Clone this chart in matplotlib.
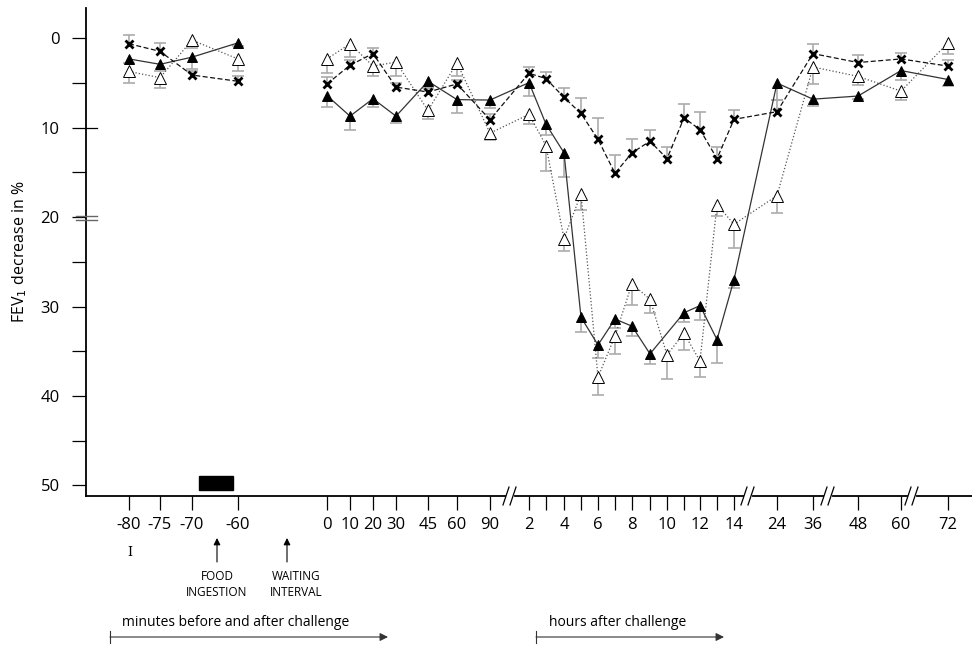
import numpy as np
import matplotlib.pyplot as plt

plt.rcParams['font.family'] = ['Open Sans', 'DejaVu Sans']

# time points (minutes before/after, then hours after challenge)
times = ['-80', '-75', '-70', '-60', '0', '10', '20', '30', '45', '60', '90',
         '2', '3', '4', '5', '6', '7', '8', '9', '10', '11', '12', '13', '14',
         '24', '36', '48', '60', '72']
hidden_labels = ['3', '5', '7', '9', '11', '13']
n_pre = 4  # first four points are before challenge, not joined to the rest

# FEV1 decrease in % (means) and one-sided error bars
filled = [2.3, 2.9, 2.1, 0.5, 6.4, 8.7, 6.75, 8.7, 4.8, 6.85, 6.9,
          4.95, 9.6, 12.8, 31.2, 34.3, 31.4, 32.2, 35.3, np.nan, 30.7, 29.9, 33.7, 27.0,
          5.0, 6.8, 6.45, 3.6, 4.6]
filled_err = [0.5, 0.7, 1.3, 0.3, 1.3, 1.6, 0.9, 0.8, 0.8, 1.55, 0.85,
              1.55, 1.25, 2.7, 1.6, 1.5, 1.0, 1.1, 1.1, np.nan, 1.0, 1.6, 2.6, 0.9,
              1.9, 0.8, 0.3, 1.0, 0.7]

opened = [3.7, 4.4, 0.2, 2.3, 2.3, 0.6, 3.1, 2.65, 8.05, 2.75, 10.6,
          8.5, 12.0, 22.4, 17.4, 37.9, 33.3, 27.45, 29.2, 35.4, 33.0, 36.1, 18.6, 20.8,
          17.6, 3.2, 4.25, 5.9, 0.5]
opened_err = [1.3, 1.1, 0.9, 1.4, 1.6, 1.5, 1.1, 1.6, 0.95, 1.45, 0.8,
              1.1, 2.8, 1.4, 1.8, 2.0, 2.0, 2.35, 1.5, 2.7, 1.9, 1.8, 1.3, 2.6,
              1.9, 1.9, 0.95, 1.0, 1.3]

cross = [0.6, 1.45, 4.1, 4.8, 5.1, 3.0, 1.7, 5.45, 6.0, 5.1, 9.1,
         3.9, 4.5, 6.6, 8.4, 11.3, 15.1, 12.8, 11.5, 13.45, 8.9, 10.2, 13.45, 9.06,
         8.2, 1.7, 2.7, 2.3, 3.1]
cross_err = [0.95, 0.9, 0.5, 0.55, 0.8, 0.6, 0.6, 0.5, 0.5, 0.5, 0.6,
             0.7, 0.7, 1.0, 1.7, 2.4, 2.0, 1.5, 1.2, 1.35, 1.6, 2.0, 1.25, 1.0,
             1.3, 1.1, 0.8, 0.7, 0.7]

# broken time axis: horizontal position of each time point (axis units)
xpos = [129, 160, 192, 238, 327, 350, 373, 396, 428, 457, 490,
        529, 546, 564, 581, 598, 615, 632, 650, 667, 684, 700, 717, 734,
        777, 813, 858, 901, 948]
breaks = [510, 748, 828, 912]

W, H = 972, 647
fig = plt.figure(figsize=(W / 100, H / 100), dpi=100)
ax = fig.add_axes([86 / W, 1 - 496 / H, (W - 86) / W, (496 - 8) / H])
ax.set_xlim(86, W)
ax.set_ylim(51.2, -3.4)

x = np.array(xpos, dtype=float)


def draw(vals, errs, down, marker, mfc, ls, lc, ms, mew):
    v = np.array(vals, dtype=float)
    e = np.array(errs, dtype=float)
    ok = ~np.isnan(v)
    end = v + e if down else v - e
    ax.vlines(x[ok], v[ok], end[ok], color='#ababab', lw=1.2, zorder=2)
    ax.plot(x[ok], end[ok], ls='none', marker='_', ms=8, mew=1.2,
            color='#ababab', zorder=2)
    for seg in (slice(0, n_pre), slice(n_pre, None)):
        xs, vs = x[seg], v[seg]
        m = ~np.isnan(vs)
        ax.plot(xs[m], vs[m], ls=ls, color=lc, lw=0.9, zorder=3)
    ax.plot(x[ok], v[ok], ls='none', marker=marker, ms=ms, mfc=mfc,
            mec='black', mew=mew, zorder=4)


draw(opened, opened_err, True, '^', 'white', ':', '#555555', 8, 0.7)
draw(filled, filled_err, True, '^', 'black', '-', '#333333', 7, 0.7)
draw(cross, cross_err, False, 'x', 'black', (0, (4, 2)), '#111111', 5.5, 2.0)

# food ingestion bar
ax.axvspan(199, 233, ymin=(51.2 - 50.5) / 54.6, ymax=(51.2 - 49.0) / 54.6,
           color='black', zorder=5)

# axes styling
for s in ['top', 'right', 'bottom']:
    ax.spines[s].set_visible(False)
ax.spines['left'].set_linewidth(1.3)

ax.set_xticks(xpos)
ax.set_xticklabels(['' if (i >= 11 and t in hidden_labels) else t
                    for i, t in enumerate(times)], fontsize=12)
ax.tick_params(axis='x', length=10, width=0.9, pad=5, direction='out')
gray_ticks = [0, 1, 2, 23, 25, 28]
for i, tl in enumerate(ax.get_xticklines()):
    if i // 2 in gray_ticks:
        tl.set_color('#aaaaaa')

ax.set_yticks([0, 10, 20, 30, 40, 50])
ax.set_yticks([5, 15, 25, 35, 45], minor=True)
ax.tick_params(axis='y', which='both', length=10, width=0.9, pad=9, labelsize=12)
ax.set_ylabel('FEV$_1$ decrease in %', fontsize=11.5, labelpad=8)

# bottom axis line with break marks
yb = 51.2
edges = [86] + breaks + [W]
for a, b in zip(edges[:-1], edges[1:]):
    a2 = a + 5 if a != 86 else a
    b2 = b - 5 if b != W else b
    ax.plot([a2, b2], [yb, yb], color='black', lw=1.3, clip_on=False, zorder=6)
for bx in breaks:
    for dx in (-4, 3):
        ax.plot([bx + dx - 3, bx + dx + 3], [yb + 1.0, yb - 1.0], color='black',
                lw=0.9, clip_on=False, zorder=6)

# y axis break at 20 and crossing tick at 10
for yy in (19.85, 20.3):
    ax.plot([76, 97], [yy, yy], color='#666666', lw=1.0, clip_on=False, zorder=6)
ax.plot([86, 97], [10, 10], color='black', lw=0.9, clip_on=False)


def fx(px):
    return px / W


def fy(py):
    return 1 - py / H


# annotations below the axis
fig.text(fx(130), fy(553), 'I', fontsize=9, family='DejaVu Serif',
         ha='center', va='center')
for ax_x in (217, 287):
    fig.add_artist(plt.Annotation('', xy=(fx(ax_x), fy(538)),
                                  xytext=(fx(ax_x), fy(562)),
                                  xycoords='figure fraction',
                                  arrowprops=dict(arrowstyle='-|>', color='black',
                                                  lw=0.8, mutation_scale=10,
                                                  shrinkA=0, shrinkB=0)))
fig.text(fx(217), fy(585), 'FOOD\nINGESTION', fontsize=8.5, ha='center',
         va='center', linespacing=1.3)
fig.text(fx(296), fy(585), 'WAITING\nINTERVAL', fontsize=8.5, ha='center',
         va='center', linespacing=1.3)

fig.text(fx(122), fy(623), 'minutes before and after challenge', fontsize=10,
         ha='left', va='center')
fig.text(fx(549), fy(622), 'hours after challenge', fontsize=10,
         ha='left', va='center')
for x0, x1 in ((110, 388), (536, 724)):
    fig.add_artist(plt.Annotation('', xy=(fx(x1), fy(637)), xytext=(fx(x0), fy(637)),
                                  xycoords='figure fraction',
                                  arrowprops=dict(arrowstyle='-|>', color='#333333',
                                                  lw=0.8, mutation_scale=12,
                                                  shrinkA=0, shrinkB=0)))
    fig.add_artist(plt.Line2D([fx(x0), fx(x0)], [fy(631), fy(643)],
                              color='#333333', lw=0.8))

fig.savefig('out.png', dpi=100)
